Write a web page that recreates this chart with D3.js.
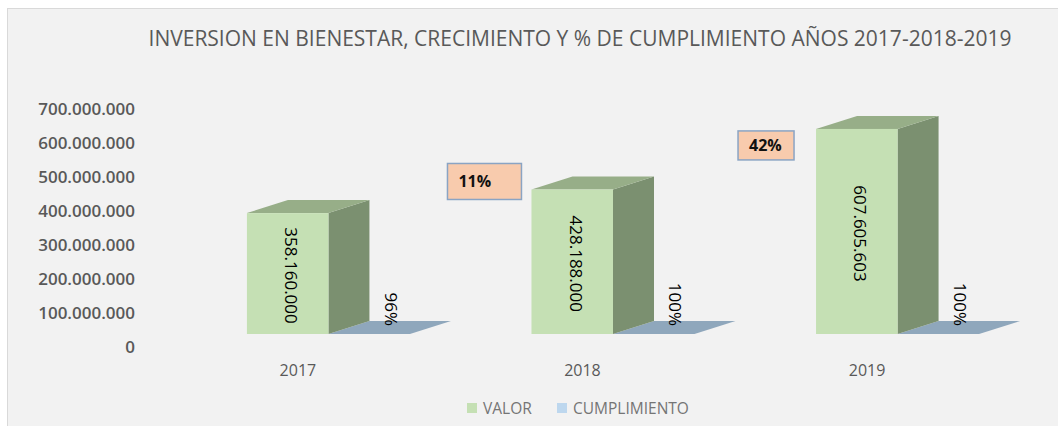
<!DOCTYPE html>
<html>
<head>
<meta charset="utf-8">
<script src="https://cdn.jsdelivr.net/npm/d3@7"></script>
<style>
  body { margin: 0; background: #fff; }
  svg { display: block; font-family: "Open Sans", sans-serif; }
</style>
</head>
<body>
<svg id="chart" width="1058" height="426"></svg>
<script>
// data
const years = ['2017', '2018', '2019'];
const valor = [358160000, 428188000, 607605603];
const cumplimiento = [0.96, 1.00, 1.00];
const growthYears = ['2018', '2019'];
const growthLabels = ['11%', '42%'];
const series = ['VALOR', 'CUMPLIMIENTO'];
const yTicks = [0, 100000000, 200000000, 300000000, 400000000, 500000000, 600000000, 700000000];

const title = 'INVERSION EN BIENESTAR, CRECIMIENTO Y % DE CUMPLIMIENTO AÑOS 2017-2018-2019';

const es = d3.formatLocale({decimal: ',', thousands: '.', grouping: [3], currency: ['$', '']});
const fmtNum = es.format(',');
const fmtPct = d3.format('.0%');

// 3d depth offset of the boxes
const depthX = 41, depthY = -13;

const colors = {
    front: '#c5e0b4', top: '#97ae88', side: '#7b9070',
    cumTop: '#8fa7bc', legendCum: '#bdd7ee'
};

const svg = d3.select('#chart');

// chart area
svg.append('rect')
    .attr('x', 7.5).attr('y', 8.5)
    .attr('width', 1060).attr('height', 430)
    .attr('fill', '#f2f2f2')
    .attr('stroke', '#d9d9d9');

const titleText = svg.append('text')
    .attr('x', 580).attr('y', 46)
    .attr('text-anchor', 'middle')
    .attr('font-size', 21).attr('fill', '#595959')
    .text(title);
// squeeze only if the font runs wider than the reference title
if (titleText.node().getComputedTextLength() > 875) {
    titleText.attr('textLength', 875).attr('lengthAdjust', 'spacingAndGlyphs');
}

const x = d3.scaleBand()
    .domain(years)
    .range([190, 1036])
    .paddingInner(0.427)
    .paddingOuter(0.2);
const xs = d3.scaleBand()
    .domain(series)
    .range([0, x.bandwidth()]);

const y = d3.scaleLinear().domain([0, 700000000]).range([334, 334 - 700 * 0.3375]);
// tick labels sit on the back wall, slightly off the front plane
const yWall = d3.scaleLinear().domain(y.domain()).range([347, 109]);

const axisG = svg.append('g')
    .attr('transform', 'translate(139,0)')
    .call(d3.axisLeft(yWall).tickValues(yTicks).tickSize(0).tickPadding(4).tickFormat(fmtNum));
axisG.select('.domain').remove();
axisG.selectAll('text')
    .attr('font-family', '"Open Sans", sans-serif')
    .attr('font-size', 17).attr('font-weight', 600)
    .attr('fill', '#595959');

// category labels
svg.append('g').selectAll('text')
    .data(years)
    .join('text')
        .attr('x', d => x(d) + 51)
        .attr('y', 376)
        .attr('text-anchor', 'middle')
        .attr('font-size', 16).attr('fill', '#595959')
        .text(d => d);

function poly(pts) { return 'M' + pts.map(p => p.join(',')).join('L') + 'Z'; }

const base = y(0);

// cumplimiento (flat, drawn first so valor boxes sit over it)
const cumG = svg.append('g');
years.forEach((yr, i) => {
    const x0 = x(yr) + xs('CUMPLIMIENTO'), w = xs.bandwidth();
    const yt = y(cumplimiento[i]);
    cumG.append('path')
        .attr('d', poly([[x0, yt], [x0 + w, yt], [x0 + w + depthX, yt + depthY], [x0 + depthX, yt + depthY]]))
        .attr('fill', colors.cumTop);
    cumG.append('text')
        .attr('transform', `translate(${x0 + w / 2 + 22},${yt - 8}) rotate(90)`)
        .attr('text-anchor', 'end')
        .attr('dominant-baseline', 'central')
        .attr('font-size', 17).attr('fill', '#000')
        .text(fmtPct(cumplimiento[i]));
});

// valor boxes
const valG = svg.append('g');
years.forEach((yr, i) => {
    const x0 = x(yr) + xs('VALOR'), w = xs.bandwidth();
    const yt = y(valor[i]);
    valG.append('path')
        .attr('d', poly([[x0 + w, yt], [x0 + w + depthX, yt + depthY], [x0 + w + depthX, base + depthY], [x0 + w, base]]))
        .attr('fill', colors.side);
    valG.append('path')
        .attr('d', poly([[x0, yt], [x0 + w, yt], [x0 + w + depthX, yt + depthY], [x0 + depthX, yt + depthY]]))
        .attr('fill', colors.top);
    valG.append('rect')
        .attr('x', x0).attr('y', yt)
        .attr('width', w).attr('height', base - yt)
        .attr('fill', colors.front);
    valG.append('text')
        .attr('transform', `translate(${x0 + w / 2 + 4},${(yt + base) / 2 + 2}) rotate(90)`)
        .attr('text-anchor', 'middle')
        .attr('dominant-baseline', 'central')
        .attr('font-size', 17).attr('fill', '#000')
        .text(fmtNum(valor[i]));
});

// growth callouts
const callG = svg.append('g');
const boxW = [74, 56];
growthYears.forEach((yr, i) => {
    const vi = years.indexOf(yr);
    const bx = x(yr) - (i === 0 ? 84 : 78);
    const by = i === 0 ? y(valor[vi]) - 26 : y(valor[vi]) + 2;
    callG.append('rect')
        .attr('x', bx).attr('y', by)
        .attr('width', boxW[i]).attr('height', i === 0 ? 36 : 29)
        .attr('fill', '#f8cbad')
        .attr('stroke', '#8aa4c4').attr('stroke-width', 1.5);
    callG.append('text')
        .attr('x', bx + 11).attr('y', by + (i === 0 ? 18 : 14.5))
        .attr('dominant-baseline', 'central')
        .attr('font-size', 16).attr('font-weight', 700).attr('fill', '#111')
        .text(growthLabels[i]);
});

// legend
const legend = svg.append('g');
const legX = [467, 557];
series.forEach((s, i) => {
    legend.append('rect')
        .attr('x', legX[i]).attr('y', 403)
        .attr('width', 10).attr('height', 10)
        .attr('fill', i === 0 ? colors.front : colors.legendCum);
    legend.append('text')
        .attr('x', legX[i] + 16).attr('y', 408)
        .attr('dominant-baseline', 'central')
        .attr('font-size', 15.5).attr('fill', '#757575')
        .text(s);
});
</script>
</body>
</html>
